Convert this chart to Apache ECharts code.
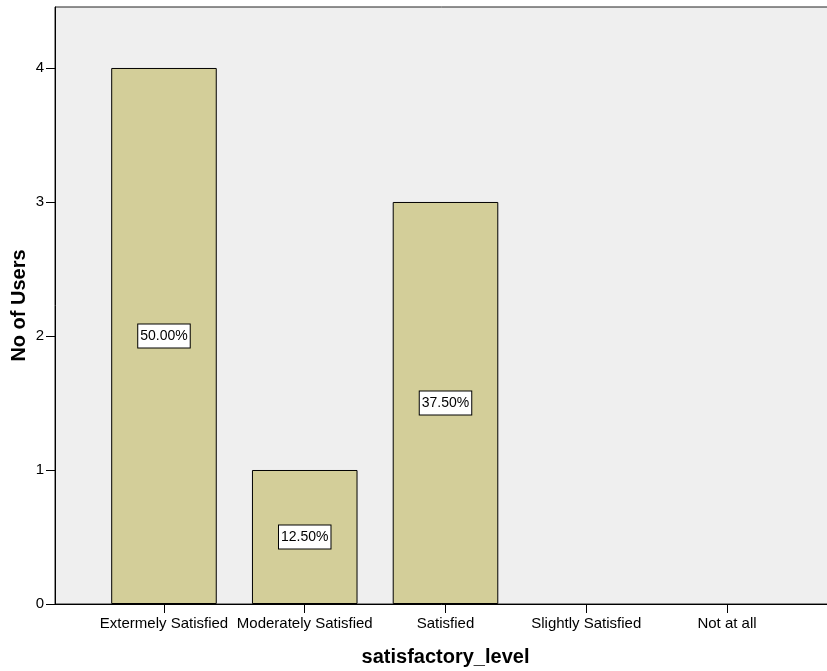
<!DOCTYPE html>
<html>
<head>
<meta charset="utf-8">
<script src="https://cdn.jsdelivr.net/npm/echarts@6/dist/echarts.min.js"></script>
<style>
  html, body { margin: 0; padding: 0; background: #ffffff; }
  #chart { width: 827px; height: 671px; }
</style>
</head>
<body>
<div id="chart"></div>
<script>
// Satisfaction survey: number of users per level
const categories = ['Extermely Satisfied', 'Moderately Satisfied', 'Satisfied', 'Slightly Satisfied', 'Not at all'];
const userCounts = [4, 1, 3, 0, 0];
const percentLabels = ['50.00%', '12.50%', '37.50%', '', ''];
const yTicks = [0, 1, 2, 3, 4];

const FONT = 'Liberation Sans, Arial, sans-serif';
const Y_MAX = 4.455;

const barData = userCounts.map((v, i) => ({
  value: v,
  label: { show: percentLabels[i] !== '' },
  itemStyle: v === 0 ? { borderWidth: 0 } : {}
}));

const chart = echarts.init(document.getElementById('chart'), null, { renderer: 'canvas' });

chart.setOption({
  animation: false,
  backgroundColor: '#ffffff',
  grid: [
    // frame grid: background, top border, full-width baseline
    { left: 55, top: 7, right: -9, bottom: 67, outerBoundsMode: 'none', containLabel: false,
      show: true, backgroundColor: '#efefef', borderColor: '#222', borderWidth: 1 },
    // bar grid: category bands
    { left: 93.6, top: 7, right: 29.6, bottom: 67, outerBoundsMode: 'none', containLabel: false }
  ],
  xAxis: [
    {
      gridIndex: 0, type: 'value', min: 0, max: 1,
      axisLine: { show: true, lineStyle: { color: '#000', width: 1 } },
      axisTick: { show: false }, axisLabel: { show: false }, splitLine: { show: false },
      name: 'satisfactory_level', nameLocation: 'middle', nameGap: 43, nameMoveOverlap: false,
      nameTextStyle: { fontFamily: FONT, fontSize: 20, fontWeight: 'bold', color: '#000' }
    },
    {
      gridIndex: 1, type: 'category', data: categories,
      axisLine: { show: false },
      axisTick: { show: true, alignWithLabel: true, length: 9, lineStyle: { color: '#000' } },
      axisLabel: { interval: 0, margin: 12, fontFamily: FONT, fontSize: 15, color: '#000' }
    }
  ],
  yAxis: [
    {
      gridIndex: 0, type: 'value', min: 0, max: Y_MAX, interval: 1,
      axisLine: { show: true, lineStyle: { color: '#000', width: 1 } },
      axisTick: { show: true, length: 9, customValues: yTicks, lineStyle: { color: '#000' } },
      axisLabel: {
        margin: 11, fontFamily: FONT, fontSize: 15, color: '#000',
        customValues: yTicks
      },
      splitLine: { show: false },
      name: 'No of Users', nameLocation: 'middle', nameGap: 26, nameMoveOverlap: false,
      nameTextStyle: { fontFamily: FONT, fontSize: 20, fontWeight: 'bold', color: '#000' }
    },
    {
      gridIndex: 1, type: 'value', min: 0, max: Y_MAX, interval: 1, show: false,
      splitLine: { show: false }
    }
  ],
  series: [
    {
      type: 'bar',
      xAxisIndex: 1, yAxisIndex: 1,
      data: barData,
      barWidth: '75%',
      itemStyle: { color: '#d3ce99', borderColor: '#000', borderWidth: 1 },
      label: {
        show: true, position: 'inside',
        formatter: p => percentLabels[p.dataIndex],
        fontFamily: FONT, fontSize: 14, color: '#000', lineHeight: 16,
        backgroundColor: '#fff', borderColor: '#000', borderWidth: 1,
        padding: [4, 2, 3, 2]
      }
    }
  ]
});
</script>
</body>
</html>
